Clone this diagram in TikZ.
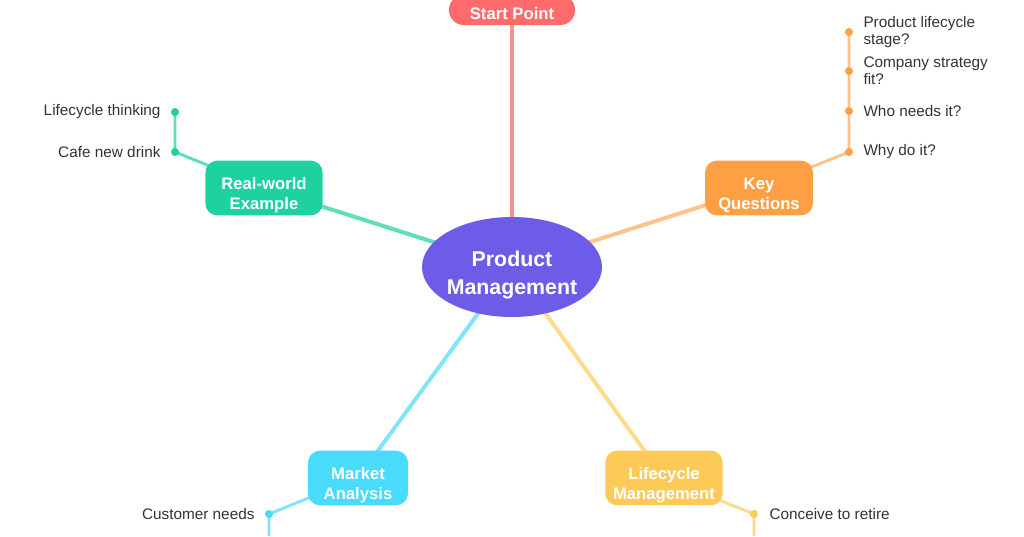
\documentclass[tikz,border=0pt]{standalone}
\usepackage{fontspec}
\setmainfont{Liberation Sans}
\usetikzlibrary{shapes.geometric,backgrounds}

\definecolor{hubPurple}{RGB}{108,92,231}
\definecolor{startRed}{RGB}{255,107,107}
\definecolor{startLine}{RGB}{248,144,144}
\definecolor{keyOrange}{RGB}{255,159,67}
\definecolor{keyLine}{RGB}{253,195,138}
\definecolor{realGreen}{RGB}{29,209,161}
\definecolor{realLine}{RGB}{96,222,188}
\definecolor{marketCyan}{RGB}{72,219,251}
\definecolor{marketLine}{RGB}{128,228,250}
\definecolor{lifeYellow}{RGB}{254,202,87}
\definecolor{lifeLine}{RGB}{252,219,140}
\definecolor{leafText}{RGB}{51,51,51}

\tikzset{every picture/.style={line width=0.75pt}}

\begin{document}
\begin{tikzpicture}[x=0.75pt,y=0.75pt,yscale=-1,xscale=1,
  topic/.style={rounded corners=9pt,minimum width=75pt,minimum height=41pt,inner sep=0pt},
  textBase/.style={inner sep=0pt,align=center,text=white},
  topicText/.style={textBase,font=\bfseries\fontsize{12.5}{15}\selectfont,yshift=-5.25pt},
  startText/.style={textBase,font=\bfseries\fontsize{12.5}{15}\selectfont,yshift=-3pt},
  hubText/.style={textBase,font=\bfseries\fontsize{16}{21}\selectfont,yshift=-6pt},
  leaf/.style={inner sep=0pt,align=left,text=leafText,font=\fontsize{11.5}{12.75}\selectfont},
  dot/.style={circle,inner sep=0pt,minimum size=6pt},
  branch/.style={line width=3pt},
  twig/.style={line width=2.2pt}]
	\useasboundingbox (0,0) rectangle (1024,536);

	%Shape: Ellipse [id:hub]
	\node (hub) [ellipse,fill=hubPurple,minimum width=135pt,minimum height=75pt,inner sep=0pt,label={[hubText]center:{Product\\Management}}] at (512,267) {};

	%Shape: Rounded Rect [id:start]
	\node (start) [topic,fill=startRed,minimum width=94.5pt,minimum height=22.5pt,rounded corners=11pt,label={[startText]center:{Start Point}}] at (512,10) {};
	%Shape: Rounded Rect [id:key]
	\node (key) [topic,fill=keyOrange,minimum width=81pt,label={[topicText]center:{Key\\Questions}}] at (759,188) {};
	%Shape: Rounded Rect [id:real]
	\node (real) [topic,fill=realGreen,minimum width=88pt,label={[topicText]center:{Real-world\\Example}}] at (264,188) {};
	%Shape: Rounded Rect [id:market]
	\node (market) [topic,fill=marketCyan,label={[topicText]center:{Market\\Analysis}}] at (358,478) {};
	%Shape: Rounded Rect [id:life]
	\node (life) [topic,fill=lifeYellow,minimum width=88pt,label={[topicText]center:{Lifecycle\\Management}}] at (664,478) {};

	%Shape: Circle [id:dots]
	\node (k1) [dot,fill=keyOrange] at (849,32) {};
	\node (k2) [dot,fill=keyOrange] at (849,71) {};
	\node (k3) [dot,fill=keyOrange] at (849,111) {};
	\node (k4) [dot,fill=keyOrange] at (849,152) {};
	\node (r1) [dot,fill=realGreen] at (175,112) {};
	\node (r2) [dot,fill=realGreen] at (175,152) {};
	\node (m1) [dot,fill=marketCyan] at (269,514) {};
	\node (l1) [dot,fill=lifeYellow] at (754,514) {};
	\coordinate (mEnd) at (269,536);
	\coordinate (lEnd) at (754,536);

	% Text Node
	\node (k1t) [leaf,anchor=west] at (863,32) {Product lifecycle\\stage?};
	% Text Node
	\node (k2t) [leaf,anchor=west] at (863,71) {Company strategy\\fit?};
	% Text Node
	\node (k3t) [leaf,anchor=west] at (863,111) {Who needs it?};
	% Text Node
	\node (k4t) [leaf,anchor=west] at (863,152) {Why do it?};
	% Text Node
	\node (r1t) [leaf,anchor=east] at (161,112) {Lifecycle thinking};
	% Text Node
	\node (r2t) [leaf,anchor=east] at (161,152) {Cafe new drink};
	% Text Node
	\node (m1t) [leaf,anchor=east] at (255,514) {Customer needs};
	% Text Node
	\node (l1t) [leaf,anchor=west] at (769,514) {Conceive to retire};

	\begin{scope}[on background layer]
		%Straight Lines [id:branches]
		\draw [branch,startLine] (hub.center) -- (start.center);
		\draw [branch,keyLine] (hub.center) -- (key.center);
		\draw [branch,realLine] (hub.center) -- (real.center);
		\draw [branch,marketLine] (hub.center) -- (market.center);
		\draw [branch,lifeLine] (hub.center) -- (life.center);
		%Straight Lines [id:twigs]
		\draw [twig,keyLine] (key.center) -- (k4.center) -- (k1.center);
		\draw [twig,realLine] (real.center) -- (r2.center) -- (r1.center);
		\draw [twig,marketLine] (market.center) -- (m1.center) -- (mEnd);
		\draw [twig,lifeLine] (life.center) -- (l1.center) -- (lEnd);
	\end{scope}

\end{tikzpicture}
\end{document}
